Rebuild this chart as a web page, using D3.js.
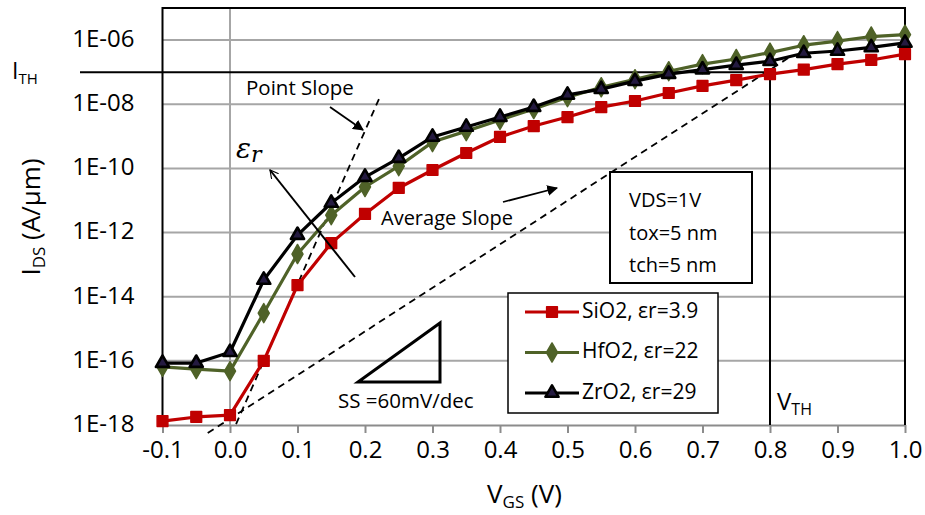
<!DOCTYPE html>
<html><head><meta charset="utf-8">
<script src="https://cdn.jsdelivr.net/npm/d3@7"></script>
<style>
html,body{margin:0;padding:0;background:#fff;}
text{font-family:"Open Sans","Liberation Sans",sans-serif;fill:#000;}
</style></head>
<body><svg id="c" width="925" height="515"></svg>
<script>
const vgs = [-0.1,-0.05,0,0.05,0.1,0.15,0.2,0.25,0.3,0.35,0.4,0.45,0.5,0.55,0.6,0.65,0.7,0.75,0.8,0.85,0.9,0.95,1.0];
const sio2 = [1.32e-18,1.78e-18,2.04e-18,1.0e-16,2.29e-14,4.68e-13,3.80e-12,2.45e-11,8.91e-11,3.02e-10,9.55e-10,2.09e-9,3.98e-9,8.13e-9,1.26e-8,2.24e-8,3.72e-8,5.62e-8,8.71e-8,1.20e-7,1.78e-7,2.40e-7,3.63e-7];
const hfo2 = [6.46e-17,5.50e-17,4.79e-17,3.09e-15,2.14e-13,3.47e-12,2.63e-11,1.17e-10,6.61e-10,1.45e-9,3.24e-9,7.08e-9,1.66e-8,3.39e-8,6.03e-8,1.07e-7,1.78e-7,2.57e-7,4.07e-7,6.92e-7,9.33e-7,1.29e-6,1.48e-6];
const zro2 = [8.51e-17,8.51e-17,1.86e-16,3.31e-14,8.32e-13,8.32e-12,5.37e-11,2.09e-10,9.55e-10,1.95e-9,3.98e-9,8.13e-9,1.95e-8,2.95e-8,5.25e-8,8.71e-8,1.20e-7,1.66e-7,2.19e-7,3.89e-7,4.57e-7,5.89e-7,8.13e-7];
const seriesNames = ["SiO2, εr=3.9","HfO2, εr=22","ZrO2, εr=29"];
const seriesColors = ["#c00000","#4f6228","#000000"];
const xTicks = [-0.1,0,0.1,0.2,0.3,0.4,0.5,0.6,0.7,0.8,0.9,1.0];
const xTickLabels = ["-0.1","0.0","0.1","0.2","0.3","0.4","0.5","0.6","0.7","0.8","0.9","1.0"];
const yTicks = [1e-18,1e-16,1e-14,1e-12,1e-10,1e-8,1e-6];
const yTickLabels = ["1E-18","1E-16","1E-14","1E-12","1E-10","1E-08","1E-06"];
const ith = 1e-7, vth = 0.8;
const pointSlope = [[0.009,1.07e-18],[0.222,1.68e-8]];
const avgSlope = [[-0.033,5.6e-19],[0.827,2.76e-7]];

const svg = d3.select("#c");
const x = d3.scaleLinear().domain([-0.1,1.0]).range([162.5,905]);
const y = d3.scaleLog().domain([1e-18,1e-5]).range([425,8]);

// gridlines
svg.append("g").selectAll("line").data(yTicks.slice(1)).join("line")
  .attr("x1",x(-0.1)).attr("x2",x(1.0)).attr("y1",d=>y(d)).attr("y2",d=>y(d))
  .attr("stroke","#a6a6a6").attr("stroke-width",2);
svg.append("line").attr("x1",x(0)).attr("x2",x(0)).attr("y1",y(1e-5)).attr("y2",y(1e-18))
  .attr("stroke","#a6a6a6").attr("stroke-width",2);

// x axis
const xAxis = d3.axisBottom(x).tickValues(xTicks).tickFormat((d,i)=>xTickLabels[i]).tickSize(8).tickSizeOuter(0);
const gx = svg.append("g").attr("transform",`translate(0,${y(1e-18)})`).call(xAxis);
gx.select(".domain").attr("stroke","#8c8c8c").attr("stroke-width",2);
gx.selectAll(".tick line").attr("stroke","#8c8c8c").attr("stroke-width",2);
gx.selectAll(".tick text").attr("font-size",24).attr("dy",0).attr("y",27).attr("dominant-baseline","middle")
  .style("font-family",'"Open Sans",sans-serif');

// y axis labels
const yAxis = d3.axisLeft(y).tickValues(yTicks).tickFormat((d,i)=>yTickLabels[i]).tickSize(0);
const gy = svg.append("g").attr("transform",`translate(${x(-0.1)},0)`).call(yAxis);
gy.select(".domain").remove();
gy.selectAll(".tick text").attr("font-size",24).attr("x",-28).attr("dy",0).attr("dominant-baseline","middle")
  .style("font-family",'"Open Sans",sans-serif');

// plot border (left, top, right)
svg.append("path").attr("d",`M${x(-0.1)},${y(1e-18)}V${y(1e-5)}H${x(1.0)}V${y(1e-18)}`)
  .attr("fill","none").attr("stroke","#000").attr("stroke-width",2);

// ITH and VTH lines
svg.append("line").attr("x1",80).attr("x2",x(vth)).attr("y1",y(ith)).attr("y2",y(ith))
  .attr("stroke","#000").attr("stroke-width",2);
svg.append("line").attr("x1",x(vth)).attr("x2",x(vth)).attr("y1",y(ith)).attr("y2",y(1e-18))
  .attr("stroke","#000").attr("stroke-width",2);

// dashed slope lines
[pointSlope, avgSlope].forEach(seg=>{
  svg.append("line").attr("x1",x(seg[0][0])).attr("y1",y(seg[0][1])).attr("x2",x(seg[1][0])).attr("y2",y(seg[1][1]))
    .attr("stroke","#000").attr("stroke-width",1.8).attr("stroke-dasharray","7,5");
});

// defs for arrowheads
const defs = svg.append("defs");
defs.append("marker").attr("id","ahFill").attr("viewBox","0 0 10 10").attr("refX",9).attr("refY",5)
  .attr("markerWidth",6).attr("markerHeight",6).attr("orient","auto")
  .append("path").attr("d","M0,0L10,5L0,10z").attr("fill","#000");
defs.append("marker").attr("id","ahOpen").attr("viewBox","0 0 12 12").attr("refX",11).attr("refY",6)
  .attr("markerWidth",9).attr("markerHeight",9).attr("orient","auto").attr("markerUnits","userSpaceOnUse")
  .append("path").attr("d","M0,0L11,6L0,12").attr("fill","none").attr("stroke","#000").attr("stroke-width",1.5);

// series
const seriesData = [sio2,hfo2,zro2];
const line = d3.line().x(d=>x(d[0])).y(d=>y(d[1]));
const symbols = [d3.symbolSquare, d3.symbolDiamond, d3.symbolTriangle];
const symSize = [115, 105, 75];
const symFill = ["#c00000","#4f6228","#241a40"];
const symStrokeW = [1.5, 1.5, 2.6];
seriesData.forEach((vals,si)=>{
  const pts = vgs.map((v,i)=>[v,vals[i]]);
  svg.append("path").datum(pts).attr("d",line).attr("fill","none")
    .attr("stroke",seriesColors[si]).attr("stroke-width",3.2).attr("stroke-linejoin","round");
  svg.append("g").selectAll("path").data(pts).join("path")
    .attr("transform",d=>`translate(${x(d[0])},${y(d[1])})`)
    .attr("d",d3.symbol().type(symbols[si]).size(symSize[si]))
    .attr("fill", symFill[si])
    .attr("stroke", seriesColors[si]).attr("stroke-width", symStrokeW[si]).attr("stroke-linejoin","round");
});

// annotations: point slope
svg.append("text").attr("x",246).attr("y",95).attr("font-size",20.5).text("Point Slope");
svg.append("line").attr("x1",330).attr("y1",107).attr("x2",363).attr("y2",130)
  .attr("stroke","#000").attr("stroke-width",1.8).attr("marker-end","url(#ahFill)");
// average slope
svg.append("text").attr("x",381).attr("y",225).attr("font-size",20).text("Average Slope");
svg.append("line").attr("x1",503).attr("y1",202).attr("x2",557).attr("y2",188)
  .attr("stroke","#000").attr("stroke-width",1.8).attr("marker-end","url(#ahFill)");
// epsilon arrow
svg.append("line").attr("x1",355).attr("y1",277).attr("x2",270).attr("y2",170)
  .attr("stroke","#000").attr("stroke-width",2).attr("marker-end","url(#ahOpen)");
const eps = svg.append("text").attr("x",236).attr("y",158).style("font-family",'"DejaVu Serif","Liberation Serif",serif').attr("font-style","italic");
eps.append("tspan").attr("font-size",28).text("ε");
eps.append("tspan").attr("font-size",22).attr("dy",4).text("r");

// SS triangle
svg.append("path").attr("d","M358,382H440V323Z").attr("fill","none").attr("stroke","#000").attr("stroke-width",3).attr("stroke-linejoin","miter");
svg.append("text").attr("x",338).attr("y",408).attr("font-size",20.5).text("SS =60mV/dec");

// info box
svg.append("rect").attr("x",610).attr("y",172).attr("width",142).attr("height",111)
  .attr("fill","#fff").attr("stroke","#000").attr("stroke-width",2);
["VDS=1V","tox=5 nm","tch=5 nm"].forEach((t,i)=>{
  svg.append("text").attr("x",629).attr("y",207+i*32.5).attr("font-size",20).text(t);
});

// legend
svg.append("rect").attr("x",508).attr("y",293).attr("width",210).attr("height",120)
  .attr("fill","#fff").attr("stroke","#000").attr("stroke-width",1.5);
seriesNames.forEach((n,i)=>{
  const ly = 312 + i*40.5;
  svg.append("line").attr("x1",525).attr("x2",579).attr("y1",ly).attr("y2",ly)
    .attr("stroke",seriesColors[i]).attr("stroke-width",3.2);
  svg.append("path").attr("transform",`translate(552,${ly})`).attr("d",d3.symbol().type(symbols[i]).size(symSize[i]))
    .attr("fill", symFill[i]).attr("stroke",seriesColors[i]).attr("stroke-width", symStrokeW[i]).attr("stroke-linejoin","round");
  svg.append("text").attr("x",582).attr("y",ly).attr("dominant-baseline","middle").attr("font-size",21).text(n);
});

// ITH label
const ithT = svg.append("text").attr("x",12).attr("y",79).attr("font-size",23);
ithT.append("tspan").text("I");
ithT.append("tspan").attr("font-size",15).attr("dy",5).text("TH");
// VTH label
const vthT = svg.append("text").attr("x",777).attr("y",410).attr("font-size",24);
vthT.append("tspan").text("V");
vthT.append("tspan").attr("font-size",16).attr("dy",5).text("TH");

// axis titles
const xt = svg.append("text").attr("x",487).attr("y",503).attr("font-size",26);
xt.append("tspan").text("V");
xt.append("tspan").attr("font-size",17).attr("dy",5).text("GS");
xt.append("tspan").attr("dy",-5).text(" (V)");
const yt = svg.append("text").attr("transform","translate(40,217) rotate(-90)").attr("text-anchor","middle").attr("font-size",26);
yt.append("tspan").text("I");
yt.append("tspan").attr("font-size",17).attr("dy",5).text("DS");
yt.append("tspan").attr("dy",-5).text(" (A/µm)");
</script></body></html>
